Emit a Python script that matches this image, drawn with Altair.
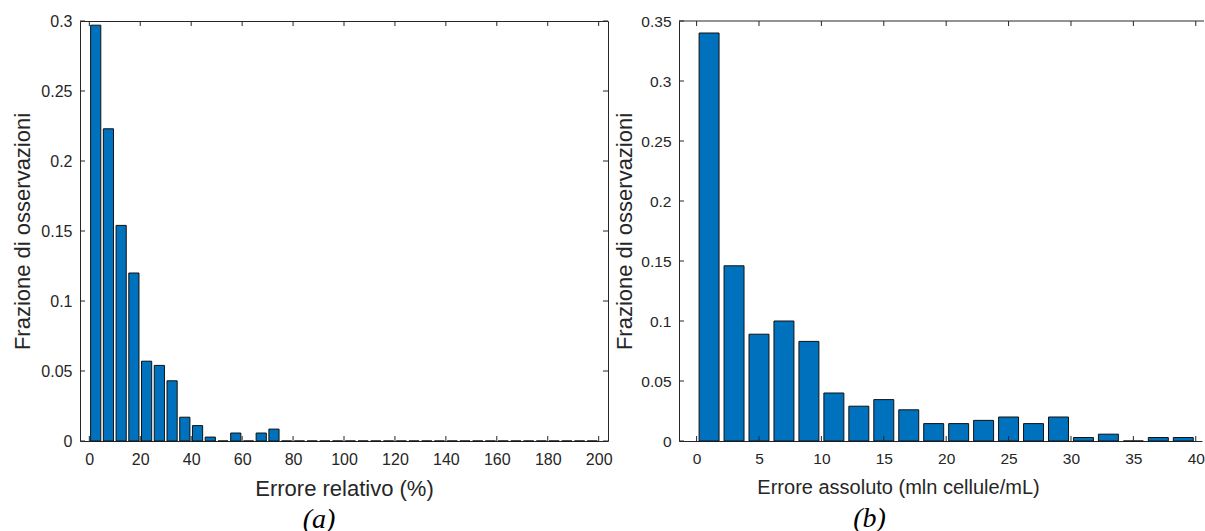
import altair as alt
import pandas as pd

# ---------------- data: panel (a) ----------------
rel_bin_centers = [2.5, 7.5, 12.5, 17.5, 22.5, 27.5, 32.5, 37.5, 42.5, 47.5,
                   52.5, 57.5, 62.5, 67.5, 72.5, 77.5, 82.5, 87.5, 92.5, 97.5,
                   102.5, 107.5, 112.5, 117.5, 122.5, 127.5, 132.5, 137.5, 142.5, 147.5,
                   152.5, 157.5, 162.5, 167.5, 172.5, 177.5, 182.5, 187.5, 192.5, 197.5]
rel_fraction = [0.297, 0.223, 0.154, 0.120, 0.057, 0.054, 0.043, 0.017, 0.011, 0.0028,
                0.0, 0.0057, 0.0, 0.0057, 0.0085, 0.0, 0.0, 0.0, 0.0, 0.0,
                0.0, 0.0, 0.0, 0.0, 0.0, 0.0, 0.0, 0.0, 0.0, 0.0,
                0.0, 0.0, 0.0, 0.0, 0.0, 0.0, 0.0, 0.0, 0.0, 0.0]
rel_x_ticks = [0, 20, 40, 60, 80, 100, 120, 140, 160, 180, 200]
rel_y_ticks = [0, 0.05, 0.1, 0.15, 0.2, 0.25, 0.3]

# ---------------- data: panel (b) ----------------
abs_bin_centers = [1, 3, 5, 7, 9, 11, 13, 15, 17, 19,
                   21, 23, 25, 27, 29, 31, 33, 35, 37, 39]
abs_fraction = [0.340, 0.146, 0.089, 0.100, 0.083, 0.040, 0.029, 0.0345, 0.026, 0.0145,
                0.0145, 0.0172, 0.020, 0.0145, 0.020, 0.0029, 0.0057, 0.0, 0.0029, 0.0029]
abs_x_ticks = [0, 5, 10, 15, 20, 25, 30, 35, 40]
abs_y_ticks = [0, 0.05, 0.1, 0.15, 0.2, 0.25, 0.3, 0.35]

y_title = "Frazione di osservazioni"
x_title_a = "Errore relativo (%)"
x_title_b = "Errore assoluto (mln cellule/mL)"
caption_a = "(a)"
caption_b = "(b)"

BAR_COLOR = "#0072BD"
AX = "#262626"
SANS = "Liberation Sans"
SERIF = "Liberation Serif"
TICK_LEN = 5


def panel(centers, values, bar_half, xdom, ydom, xt, yt, w, h, xtitle, caption,
          label_size, xtitle_size, title_x, cap_dx, full_box, y_title_pad):
    df = pd.DataFrame({"c": centers, "v": values})
    xs = alt.Scale(domain=xdom, nice=False, zero=False)
    ys = alt.Scale(domain=ydom, nice=False, zero=False)

    x_axis_kw = dict(values=xt, title=xtitle, format="~f", ticks=False, grid=False,
                     domain=not full_box, domainColor=AX, domainWidth=1,
                     labelFont=SANS, labelFontSize=label_size, labelColor=AX,
                     labelPadding=10, labelOverlap=False,
                     titleFont=SANS, titleFontSize=xtitle_size, titleFontWeight="normal",
                     titleColor=AX, titlePadding=11)
    if title_x is not None:
        x_axis_kw["titleX"] = title_x
    x_axis = alt.Axis(**x_axis_kw)
    y_axis = alt.Axis(values=yt, title=y_title, format="~f", ticks=False, grid=False,
                      domain=not full_box, domainColor=AX, domainWidth=1,
                      labelFont=SANS, labelFontSize=label_size, labelColor=AX,
                      labelPadding=8, labelOverlap=False,
                      titleFont=SANS, titleFontSize=22, titleFontWeight="normal",
                      titleColor=AX, titlePadding=y_title_pad)

    bars = (
        alt.Chart(df)
        .transform_calculate(x0=f"datum.c - {bar_half}", x1=f"datum.c + {bar_half}")
        .mark_bar(color=BAR_COLOR, stroke="#111111", strokeWidth=1)
        .encode(
            x=alt.X("x0:Q", scale=xs, axis=x_axis),
            x2="x1:Q",
            y=alt.Y("v:Q", scale=ys, axis=y_axis),
            y2=alt.datum(0),
        )
    )

    xt_df = pd.DataFrame({"t": xt})
    yt_df = pd.DataFrame({"t": yt})
    layers = [bars]
    layers.append(alt.Chart(xt_df).mark_rule(color=AX, strokeWidth=1).encode(
        x=alt.X("t:Q", scale=xs, axis=x_axis), y=alt.value(h), y2=alt.value(h - TICK_LEN)))
    layers.append(alt.Chart(xt_df).mark_rule(color=AX, strokeWidth=1).encode(
        x=alt.X("t:Q", scale=xs, axis=x_axis), y=alt.value(0), y2=alt.value(TICK_LEN)))
    layers.append(alt.Chart(yt_df).mark_rule(color=AX, strokeWidth=1).encode(
        y=alt.Y("t:Q", scale=ys, axis=y_axis), x=alt.value(0), x2=alt.value(TICK_LEN)))
    if full_box:
        layers.append(alt.Chart(yt_df).mark_rule(color=AX, strokeWidth=1).encode(
            y=alt.Y("t:Q", scale=ys, axis=y_axis), x=alt.value(w), x2=alt.value(w - TICK_LEN)))
    else:
        layers.append(alt.Chart(pd.DataFrame({"a": [0]})).mark_rule(color=AX, strokeWidth=1).encode(
            x=alt.value(0), x2=alt.value(w + 2), y=alt.value(0)))

    return alt.layer(*layers).properties(
        width=w,
        height=h,
        view=alt.ViewBackground(stroke=AX if full_box else None, strokeWidth=1),
        title=alt.TitleParams(caption, orient="bottom", font=SERIF, fontStyle="italic",
                              fontSize=28, fontWeight="normal", color="black",
                              dx=cap_dx, offset=7),
    )


left = panel(rel_bin_centers, rel_fraction, 2.0, [-3.66, 203.66], [0, 0.3],
             rel_x_ticks, rel_y_ticks, 528, 420, x_title_a, caption_a,
             16, 22, None, -25, True, 6)
right = panel(abs_bin_centers, abs_fraction, 0.8, [-1.41, 40.5], [0, 0.35],
              abs_x_ticks, abs_y_ticks, 523, 420, x_title_b, caption_b,
              15.5, 20, 219, -71, False, 4)

chart = alt.hconcat(left, right, spacing=0).properties(
    padding={"left": 11, "top": 12, "right": 0, "bottom": 0}
).configure(background="white")

chart.save("out.html", embed_options={"renderer": "svg", "actions": False})
